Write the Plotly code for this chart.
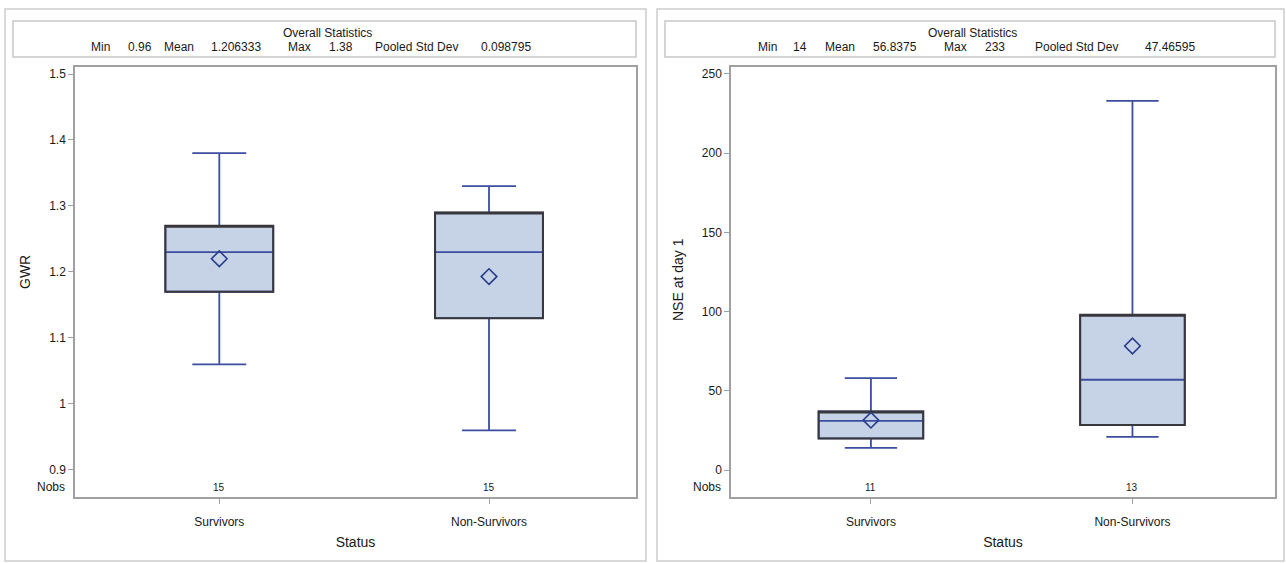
import plotly.graph_objects as go

# ---------------- data ----------------
categories = ["Survivors", "Non-Survivors"]

gwr_q1 = [1.17, 1.13]
gwr_median = [1.23, 1.23]
gwr_q3 = [1.27, 1.29]
gwr_low = [1.06, 0.96]
gwr_high = [1.38, 1.33]
gwr_mean = [1.22, 1.193]
gwr_nobs = [15, 15]

nse_q1 = [20, 28.5]
nse_median = [31, 57]
nse_q3 = [37, 98]
nse_low = [14, 21]
nse_high = [58, 233]
nse_mean = [31.5, 78.3]
nse_nobs = [11, 13]

stat_labels = ["Min", "Mean", "Max", "Pooled Std Dev"]
gwr_stat_values = ["0.96", "1.206333", "1.38", "0.098795"]
nse_stat_values = ["14", "56.8375", "233", "47.46595"]

gwr_ticks = [0.9, 1.0, 1.1, 1.2, 1.3, 1.4, 1.5]
nse_ticks = [0, 50, 100, 150, 200, 250]

# ---------------- styling ----------------
W, H = 1286, 563
FONT = "Liberation Sans Narrow, Arial Narrow, Liberation Sans, Arial, sans-serif"
FILL = "rgb(198,210,229)"
BLUE = "rgb(60,78,160)"
DARK = "rgb(55,55,60)"
FRAME = "rgb(160,160,160)"
TXT = "rgb(25,25,25)"
DIAM = "rgb(40,60,140)"


def fx(px):
    return px / W


def fy(py):
    return 1 - py / H


fig = go.Figure()


def add_panel(xa, ya, q1, med, q3, lo, hi, mean):
    # whiskers, median, fill (blue lines)
    fig.add_trace(go.Box(
        x=categories, q1=q1, median=med, q3=q3, lowerfence=lo, upperfence=hi,
        xaxis=xa, yaxis=ya, width=0.4, whiskerwidth=0.5,
        fillcolor=FILL, line=dict(color=BLUE, width=1.8),
        showlegend=False, hoverinfo="skip", boxpoints=False))
    # dark box outline
    fig.add_trace(go.Box(
        x=categories, q1=q1, median=q3, q3=q3, lowerfence=q1, upperfence=q3,
        xaxis=xa, yaxis=ya, width=0.4, whiskerwidth=0,
        fillcolor="rgba(0,0,0,0)", line=dict(color=DARK, width=2),
        showlegend=False, hoverinfo="skip", boxpoints=False))
    # mean diamonds
    fig.add_trace(go.Scatter(
        x=categories, y=mean, xaxis=xa, yaxis=ya, mode="markers",
        marker=dict(symbol="diamond-open", size=12, color=DIAM,
                    line=dict(color=DIAM, width=1.6)),
        showlegend=False, hoverinfo="skip"))


add_panel("x", "y", gwr_q1, gwr_median, gwr_q3, gwr_low, gwr_high, gwr_mean)
add_panel("x2", "y2", nse_q1, nse_median, nse_q3, nse_low, nse_high, nse_mean)

# panel geometry (pixels)
P = [
    dict(outer=(5, 9, 646, 561), stats=(13, 21, 636, 57), plot=(75, 67, 636, 497),
         yr=[0.859, 1.5106], ticks=gwr_ticks, ytitle="GWR", ytx=25, yty=272,
         statx=[100, 140, 179, 236, 299, 341, 416, 506], title_x=327,
         vals=gwr_stat_values, nobs=gwr_nobs),
    dict(outer=(657, 9, 1284, 561), stats=(665, 21, 1275, 57), plot=(731, 67, 1275, 497),
         yr=[-17.0, 254.4], ticks=nse_ticks, ytitle="NSE at day 1", ytx=678, yty=280,
         statx=[767, 800, 840, 895, 955, 995, 1076, 1170], title_x=972,
         vals=nse_stat_values, nobs=nse_nobs),
]


def note(text, x, y, size, xref="paper", angle=0, xanchor="center"):
    return dict(text=text, xref=xref, yref="paper", x=x, y=y, showarrow=False,
                xanchor=xanchor, yanchor="middle", textangle=angle,
                font=dict(family=FONT, size=size, color=TXT))


shapes = []
annotations = []
axes = {}
for i, p in enumerate(P):
    sfx = "" if i == 0 else "2"
    ox0, oy0, ox1, oy1 = p["outer"]
    shapes.append(dict(type="rect", xref="paper", yref="paper",
                       x0=fx(ox0), x1=fx(ox1), y0=fy(oy1), y1=fy(oy0),
                       line=dict(color="rgb(205,205,205)", width=1.5), layer="below"))
    sx0, sy0, sx1, sy1 = p["stats"]
    shapes.append(dict(type="rect", xref="paper", yref="paper",
                       x0=fx(sx0), x1=fx(sx1), y0=fy(sy1), y1=fy(sy0),
                       line=dict(color="rgb(200,200,200)", width=1.5), layer="below"))
    px0, py0, px1, py1 = p["plot"]
    axes["xaxis" + sfx] = dict(
        domain=[fx(px0), fx(px1)], anchor="y" + sfx, type="category",
        categoryorder="array", categoryarray=categories,
        range=[-0.535, 1.545], showline=True, mirror=True, linecolor=FRAME, linewidth=1.5,
        ticks="outside", ticklen=5, tickcolor=FRAME, showgrid=False, zeroline=False,
        tickfont=dict(family=FONT, size=12, color=TXT), ticklabelstandoff=8,
        title=dict(text="Status", font=dict(family=FONT, size=14, color=TXT), standoff=9))
    axes["yaxis" + sfx] = dict(
        domain=[fy(py1), fy(py0)], anchor="x" + sfx, range=p["yr"],
        tickvals=p["ticks"], showline=True, mirror=True, linecolor=FRAME, linewidth=1.5,
        ticks="outside", ticklen=5, tickcolor=FRAME, showgrid=False, zeroline=False,
        tickfont=dict(family=FONT, size=12, color=TXT))
    # y title
    annotations.append(note(p["ytitle"], fx(p["ytx"]), fy(p["yty"]), 14, angle=-90))
    # Nobs
    annotations.append(note("Nobs", fx(px0 - 8), fy(487), 12, xanchor="right"))
    for c, n in zip(categories, p["nobs"]):
        annotations.append(note(str(n), c, fy(487), 10, xref="x" + sfx))
    # stats box
    annotations.append(note("Overall Statistics", fx(p["title_x"]), fy(33), 12))
    items = []
    for lab, val in zip(stat_labels, p["vals"]):
        items += [lab, val]
    for t, cx in zip(items, p["statx"]):
        annotations.append(note(t, fx(cx), fy(47), 12))

fig.update_layout(
    width=W, height=H, margin=dict(l=0, r=0, t=0, b=0),
    paper_bgcolor="white", plot_bgcolor="white", boxmode="overlay",
    shapes=shapes, annotations=annotations, **axes)

fig.write_html("out.html", config={"displayModeBar": False})

# remove default browser body margin so the figure fills the window exactly
with open("out.html", "r", encoding="utf-8") as f:
    html = f.read()
html = html.replace("<head>", "<head><style>html,body{margin:0;padding:0;overflow:hidden;}</style>", 1)
with open("out.html", "w", encoding="utf-8") as f:
    f.write(html)
